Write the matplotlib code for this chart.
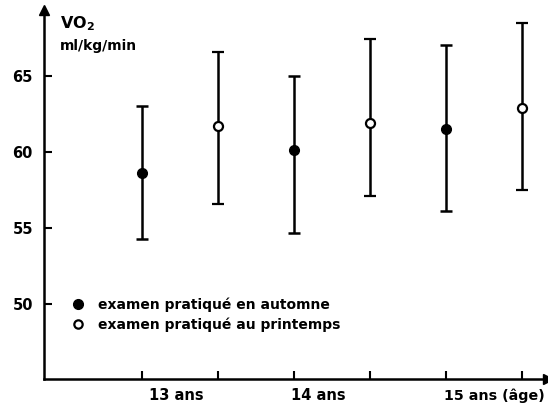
import matplotlib
matplotlib.use("Agg")
import matplotlib.pyplot as plt
from matplotlib.lines import Line2D
from matplotlib.transforms import blended_transform_factory

plt.rcParams['font.family'] = ['DejaVu Sans']

# Data
positions_autumn = [13.0, 14.0, 15.0]
mean_autumn = [58.6, 60.1, 61.5]
low_autumn = [54.3, 54.7, 56.1]
high_autumn = [63.0, 65.0, 67.0]

positions_spring = [13.5, 14.5, 15.5]
mean_spring = [61.7, 61.9, 62.9]
low_spring = [56.6, 57.1, 57.5]
high_spring = [66.6, 67.4, 68.5]

x_ticks = [13.0, 13.5, 14.0, 14.5, 15.0, 15.5]
y_ticks = [50, 55, 60, 65]
x_labels = ["13 ans", "14 ans", "15 ans (âge)"]
x_label_pos = [13.23, 14.16, 14.99]
legend_labels = ["examen pratiqué en automne", "examen pratiqué au printemps"]

W, H = 548, 405
fig = plt.figure(figsize=(W / 100, H / 100), dpi=100)
left, right, bottom, top = 44, 548, 379, 10
ax = fig.add_axes([left / W, (H - bottom) / H, (right - left) / W, (bottom - top) / H])

ax.set_xlim(12.357, 15.673)
ax.set_ylim(45.07, 69.33)

for s in ['top', 'right']:
    ax.spines[s].set_visible(False)
for s in ['left', 'bottom']:
    ax.spines[s].set_linewidth(1.8)
    ax.spines[s].set_color('black')

# arrows
ax.plot(1, 0, marker='>', color='black', markersize=7, transform=ax.transAxes, clip_on=False)
ax.plot(0, 1, marker='^', color='black', markersize=7, transform=ax.transAxes, clip_on=False)

def err(means, lows, highs):
    return [[m - l for m, l in zip(means, lows)], [h - m for m, h in zip(means, highs)]]

ax.errorbar(positions_autumn, mean_autumn, yerr=err(mean_autumn, low_autumn, high_autumn),
            fmt='o', color='black', markersize=7, elinewidth=1.8, capsize=4.5, capthick=1.8,
            markerfacecolor='black', zorder=3)
ax.errorbar(positions_spring, mean_spring, yerr=err(mean_spring, low_spring, high_spring),
            fmt='o', color='black', markersize=6.5, elinewidth=1.8, capsize=4.5, capthick=1.8,
            markerfacecolor='white', markeredgewidth=1.6, zorder=3)

ax.set_xticks(x_ticks)
ax.set_xticklabels([])
ax.set_yticks(y_ticks)
ax.set_yticklabels([str(v) for v in y_ticks], fontsize=10.5, fontweight='bold')
ax.tick_params(axis='both', direction='in', length=5.5, width=1.5, color='black')
ax.tick_params(axis='y', pad=8)

trans = blended_transform_factory(ax.transData, fig.transFigure)
for i, (lab, xp) in enumerate(zip(x_labels, x_label_pos)):
    ax.text(xp, (H - 396) / H, lab, transform=trans,
            ha='left' if i == 2 else 'center', va='center',
            fontsize=10.3 if i == 2 else 10.5, fontweight='bold')

fig.text(60 / W, 1 - 24 / H, r"$\mathbf{VO_2}$", fontsize=11.5, va='center', ha='left')
fig.text(60 / W, 1 - 46 / H, "ml/kg/min", fontsize=10, fontweight='bold', va='center', ha='left')

handles = [
    Line2D([], [], marker='o', linestyle='none', color='black', markersize=7, markerfacecolor='black'),
    Line2D([], [], marker='o', linestyle='none', color='black', markersize=6, markerfacecolor='white', markeredgewidth=1.6),
]
leg = ax.legend(handles, legend_labels, loc='upper left',
                bbox_to_anchor=(71 / W, 1 - 297 / H), bbox_transform=fig.transFigure,
                frameon=False, handlelength=1.0, handletextpad=0.95, borderpad=0,
                borderaxespad=0, labelspacing=0.4, prop={'size': 10, 'weight': 'bold'})

fig.savefig("out.png", dpi=100)
